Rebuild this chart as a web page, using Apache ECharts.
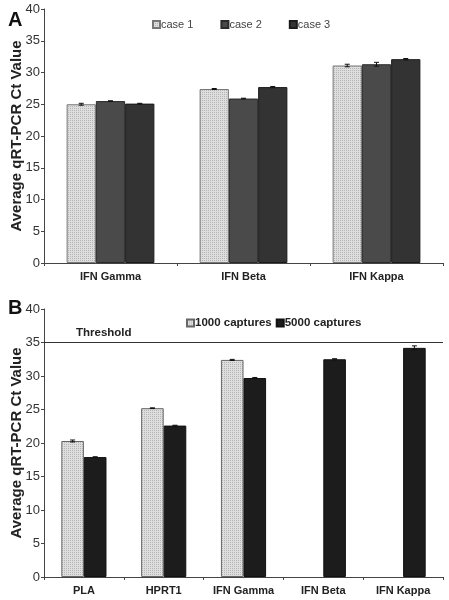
<!DOCTYPE html>
<html><head><meta charset="utf-8">
<script src="https://cdn.jsdelivr.net/npm/echarts@6/dist/echarts.min.js"></script>
<style>html,body{margin:0;padding:0;background:#fff}#c{width:449px;height:600px}</style>
</head><body><div id="c"></div>
<script>
// ---- Data ----
const catsA = ['IFN Gamma', 'IFN Beta', 'IFN Kappa'];
const case1 = [25.0, 27.4, 31.1];
const case2 = [25.5, 25.9, 31.3];
const case3 = [25.1, 27.7, 32.1];
const case1Err = [0.15, 0.08, 0.2];
const case2Err = [0.05, 0.05, 0.3];
const case3Err = [0.05, 0.1, 0.1];

const catsB = ['PLA', 'HPRT1', 'IFN Gamma', 'IFN Beta', 'IFN Kappa'];
const cap1000 = [20.3, 25.2, 32.4, null, null];
const cap5000 = [17.9, 22.6, 29.7, 32.5, 34.2];
const cap1000Err = [0.15, 0.05, 0.08, null, null];
const cap5000Err = [0.05, 0.05, 0.08, 0.08, 0.3];
const threshold = 35;
const yTicks = {min: 0, max: 40, interval: 5};

// ---- pattern ----
function makePattern() {
  const cv = document.createElement('canvas');
  cv.width = 2; cv.height = 2;
  const ctx = cv.getContext('2d');
  ctx.fillStyle = '#dedede'; ctx.fillRect(0,0,2,2);
  ctx.fillStyle = '#b4b4b4';
  ctx.fillRect(0,0,1,1);
  return {image: cv, repeat: 'repeat'};
}
const pat = makePattern();
const FONT = 'Liberation Sans, Arial, Helvetica, sans-serif';

function errSeries(name, cats, vals, errs, xi, offset, ratio) {
  const data = [];
  vals.forEach((v, i) => { if (v != null && errs[i] != null) data.push([i, v, errs[i]]); });
  return {
    type: 'custom', name: name + '_err', xAxisIndex: xi, yAxisIndex: xi, z: 5,
    silent: true, encode: {x: 0, y: 1},
    renderItem: function (params, api) {
      const x = api.value(0), v = api.value(1), e = api.value(2);
      const bw = api.size([1, 0])[0] * ratio;
      const cx = api.coord([x, v])[0] + offset * bw;
      const t = api.coord([x, v + e])[1];
      const b = api.coord([x, v - e])[1];
      const st = {stroke: '#111', lineWidth: 1};
      return {type: 'group', children: [
        {type: 'line', shape: {x1: cx, y1: t, x2: cx, y2: b}, style: st},
        {type: 'line', shape: {x1: cx - 2.5, y1: t, x2: cx + 2.5, y2: t}, style: st},
        {type: 'line', shape: {x1: cx - 2.5, y1: b, x2: cx + 2.5, y2: b}, style: st}
      ]};
    },
    data: data
  };
}

const yAxisCommon = (gi) => ({
  type: 'value', gridIndex: gi, min: yTicks.min, max: yTicks.max, interval: yTicks.interval,
  name: 'Average qRT-PCR Ct Value', nameLocation: 'middle', nameGap: 20, nameMoveOverlap: false,
  nameTextStyle: {fontFamily: FONT, fontWeight: 'bold', fontSize: 15, color: '#222'},
  axisLine: {show: true, lineStyle: {color: '#444', width: 1}},
  axisTick: {show: true, length: 3, lineStyle: {color: '#444'}},
  axisLabel: {fontFamily: FONT, fontSize: 13, color: '#333', margin: 4},
  splitLine: {show: false}
});
const xAxisCommon = (gi, cats) => ({
  type: 'category', gridIndex: gi, data: cats,
  axisLine: {lineStyle: {color: '#444', width: 1}},
  axisTick: {show: true, length: 3, alignWithLabel: false, lineStyle: {color: '#444'}},
  axisLabel: {fontFamily: FONT, fontSize: 11, fontWeight: 'bold', color: '#222', margin: 8, interval: 0}
});

const rA = 0.22, rB = 0.283;
const option = {
  animation: false,
  backgroundColor: '#fff',
  title: [
    {text: 'A', left: 3, top: 5, textStyle: {fontFamily: FONT, fontSize: 20, fontWeight: 'bold', color: '#111'}},
    {text: 'B', left: 3, top: 293, textStyle: {fontFamily: FONT, fontSize: 20, fontWeight: 'bold', color: '#111'}}
  ],
  legend: [
    {data: ['case 1', 'case 2', 'case 3'], left: 147, top: 14, itemWidth: 7, itemHeight: 7, itemGap: 27,
     icon: 'rect', textStyle: {fontFamily: FONT, fontSize: 11, color: '#444', padding: [0, 0, 0, -4]}},
    {data: ['1000 captures', '5000 captures'], left: 181, top: 312, itemWidth: 7, itemHeight: 7, itemGap: 4,
     icon: 'rect', textStyle: {fontFamily: FONT, fontSize: 11.5, fontWeight: 'bold', color: '#222', padding: [0, 0, 0, -4]}}
  ],
  grid: [
    {left: 44, right: 6, top: 9, height: 254, outerBoundsMode: 'none', containLabel: false},
    {left: 44, right: 6, top: 309, height: 268, outerBoundsMode: 'none', containLabel: false}
  ],
  xAxis: [xAxisCommon(0, catsA), xAxisCommon(1, catsB)],
  yAxis: [yAxisCommon(0), yAxisCommon(1)],
  series: [
    {type: 'bar', name: 'case 1', xAxisIndex: 0, yAxisIndex: 0, data: case1, barWidth: '22%', barGap: '0%',
     itemStyle: {color: pat, borderColor: '#777', borderWidth: 1}},
    {type: 'bar', name: 'case 2', xAxisIndex: 0, yAxisIndex: 0, data: case2, barWidth: '22%', barGap: '0%',
     itemStyle: {color: '#4a4a4a', borderColor: '#2a2a2a', borderWidth: 1}},
    {type: 'bar', name: 'case 3', xAxisIndex: 0, yAxisIndex: 0, data: case3, barWidth: '22%', barGap: '0%',
     itemStyle: {color: '#333333', borderColor: '#1a1a1a', borderWidth: 1}},
    errSeries('case 1', catsA, case1, case1Err, 0, -1, rA),
    errSeries('case 2', catsA, case2, case2Err, 0, 0, rA),
    errSeries('case 3', catsA, case3, case3Err, 0, 1, rA),
    {type: 'bar', name: '1000 captures', xAxisIndex: 1, yAxisIndex: 1, data: cap1000, barWidth: '28.3%', barGap: '0%',
     itemStyle: {color: pat, borderColor: '#666', borderWidth: 1},
     markLine: {silent: true, symbol: 'none',
       lineStyle: {color: '#333', width: 1, type: 'solid'},
       label: {show: true, position: 'insideStartTop', formatter: 'Threshold', fontFamily: FONT, fontSize: 11.5,
               fontWeight: 'bold', color: '#222', padding: [0, 0, 0, 28], distance: 4},
       data: [{yAxis: threshold}]}},
    {type: 'bar', name: '5000 captures', xAxisIndex: 1, yAxisIndex: 1, data: cap5000, barWidth: '28.3%', barGap: '0%',
     itemStyle: {color: '#1c1c1c', borderColor: '#111', borderWidth: 1}},
    errSeries('1000 captures', catsB, cap1000, cap1000Err, 1, -0.5, rB),
    errSeries('5000 captures', catsB, cap5000, cap5000Err, 1, 0.5, rB)
  ]
};
echarts.init(document.getElementById('c'), null, {renderer: 'canvas'}).setOption(option);
</script></body></html>
